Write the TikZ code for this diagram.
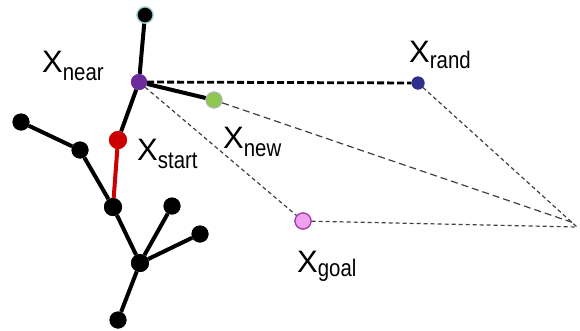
\documentclass[tikz,border=0pt]{standalone}
\usepackage{fontspec}
\setmainfont{Liberation Sans}
\newcommand{\xlab}[2][8pt]{\fontsize{31}{31}\selectfont X\raisebox{-#1}{\scalebox{0.85}[1]{\fontsize{24}{24}\selectfont #2}}}
\definecolor{nearc}{HTML}{6A2C9A}
\definecolor{newc}{HTML}{8CC850}
\definecolor{startc}{HTML}{CC0000}
\definecolor{randc}{HTML}{2E2E8C}
\definecolor{goalc}{HTML}{F0A0F0}
\definecolor{goalo}{HTML}{A040A0}
\definecolor{dashc}{HTML}{404040}
\begin{document}
\begin{tikzpicture}[x=1pt,y=-1pt,
  dot/.style={circle,inner sep=0pt,minimum size=17pt,fill=black},
  edge/.style={line width=4pt,black},
  thind/.style={dash pattern=on 4pt off 3pt,line width=1.2pt,dashc},
  lab/.style={anchor=base west,inner sep=0pt}]
\useasboundingbox (0,0) rectangle (580,330);
% tree nodes
\node[dot,draw=teal!40,line width=1.2pt,minimum size=16pt] (top) at (145,15) {};
\node[dot,fill=nearc,minimum size=16pt] (near) at (139,82) {};
\node[dot,fill=newc,draw=gray!60,line width=1pt,minimum size=16pt] (new) at (214,100) {};
\node[dot,fill=startc,minimum size=18pt] (start) at (118,140) {};
\node[dot] (a) at (21,122) {};
\node[dot] (b) at (80,150) {};
\node[dot,minimum size=18pt] (c) at (113,207) {};
\node[dot] (d) at (172,206) {};
\node[dot] (e) at (200,234) {};
\node[dot,minimum size=18pt] (f) at (140,263) {};
\node[dot] (g) at (118,320) {};
\node[dot,fill=randc,minimum size=13pt] (rand) at (418,83) {};
\node[dot,fill=goalc,draw=goalo,line width=1.2pt,minimum size=16pt] (goal) at (303,221) {};
\coordinate (corner) at (574,223);
\coordinate (cornerx) at (577,227);
% dashed lines
\draw[thind] (near) -- (goal);
\draw[thind] (goal) -- (cornerx);
\draw[thind] (rand) -- (cornerx);
\draw[dash pattern=on 7pt off 4pt,line width=1.2pt,dashc] (new) -- (corner);
\draw[dash pattern=on 7pt off 3pt,line width=2.8pt,black] (near) -- (rand);
% edges
\draw[edge] (top) -- (near);
\draw[edge] (near) -- (start);
\draw[edge] (near) -- (new);
\draw[line width=4pt,startc] (start) -- (c);
\draw[edge] (a) -- (b) -- (c) -- (f);
\draw[edge] (f) -- (d);
\draw[edge] (f) -- (e);
\draw[edge] (f) -- (g);
% redraw dots on top
\foreach \n in {a,b,d,e,g}{\node[dot] at (\n) {};}
\foreach \n in {c,f}{\node[dot,minimum size=18pt] at (\n) {};}
\node[dot,draw=teal!40,line width=1.2pt,minimum size=16pt] at (top) {};
\node[dot,fill=nearc,minimum size=16pt] at (near) {};
\node[dot,fill=newc,draw=gray!60,line width=1pt,minimum size=16pt] at (new) {};
\node[dot,fill=startc,minimum size=18pt] at (start) {};
\node[dot,fill=randc,minimum size=13pt] at (rand) {};
\node[dot,fill=goalc,draw=goalo,line width=1.2pt,minimum size=16pt] at (goal) {};
% labels
\node[lab] (lnear) at (42,72) {\xlab{near}};
\node[lab] (lstart) at (137,160) {\xlab{start}};
\node[lab] (lnew) at (223,148) {\xlab{new}};
\node[lab] (lrand) at (409,62) {\xlab[6pt]{rand}};
\node[lab] (lgoal) at (297,272) {\xlab[4pt]{goal}};
\end{tikzpicture}
\end{document}
